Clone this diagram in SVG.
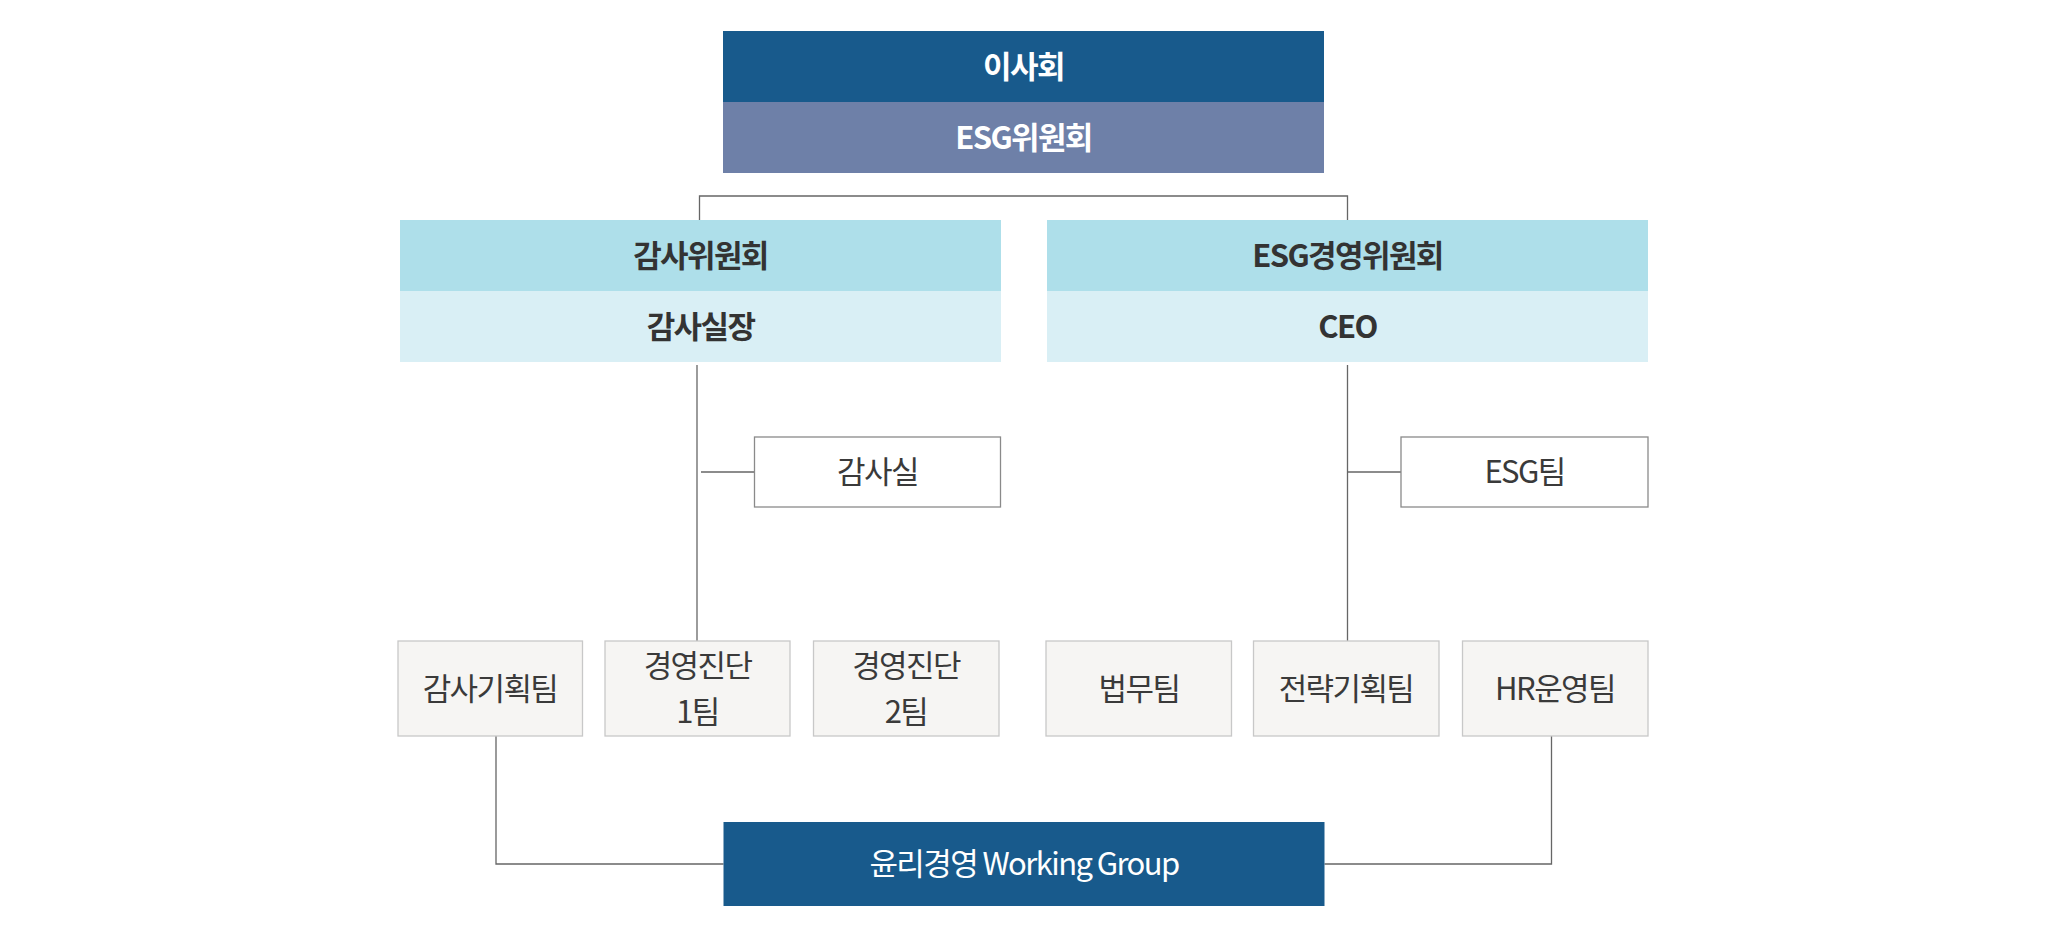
<svg xmlns="http://www.w3.org/2000/svg" width="2046" height="938" viewBox="0 0 2046 938">
<style>
.t{font-family:"Noto Sans CJK KR","Noto Sans",sans-serif;font-size:31px;text-anchor:middle;letter-spacing:-1.6px}
.b{font-weight:700}
.w{fill:#ffffff}
.d{fill:#333333}
.g{fill:#3a3a3a}
.team{fill:#f6f5f3;stroke:#c8c8c8;stroke-width:1.3}
.sub{fill:#ffffff;stroke:#8a8a8a;stroke-width:1.3}
.ln{fill:none;stroke:#666666;stroke-width:1.3}
</style>
<rect width="2046" height="938" fill="#ffffff"/>
<g id="connectors">
<polyline class="ln" points="699.5,220 699.5,196 1347.5,196 1347.5,220"/>
<line class="ln" x1="697" y1="365" x2="697" y2="641"/>
<line class="ln" x1="701" y1="472" x2="754.5" y2="472"/>
<line class="ln" x1="1347.5" y1="365" x2="1347.5" y2="641"/>
<line class="ln" x1="1347.5" y1="472" x2="1401" y2="472"/>
<polyline class="ln" points="496,736 496,864 723.5,864"/>
<polyline class="ln" points="1551.5,736 1551.5,864 1324.5,864"/>
</g>
<g id="board">
<rect x="723" y="31" width="601" height="71" fill="#185a8c"/>
<rect x="723" y="102" width="601" height="71" fill="#6e80a8"/>
<text class="t b w" x="1023.5" y="78">이사회</text>
<text class="t b w" x="1023.5" y="149">ESG위원회</text>
</g>
<g id="audit-committee">
<rect x="400" y="220" width="601" height="71" fill="#aedfea"/>
<rect x="400" y="291" width="601" height="71" fill="#d9eff5"/>
<text class="t b d" x="700.5" y="267">감사위원회</text>
<text class="t b d" x="700.5" y="338">감사실장</text>
</g>
<g id="esg-mgmt-committee">
<rect x="1047" y="220" width="601" height="71" fill="#aedfea"/>
<rect x="1047" y="291" width="601" height="71" fill="#d9eff5"/>
<text class="t b d" x="1347.5" y="267">ESG경영위원회</text>
<text class="t b d" x="1347.5" y="338">CEO</text>
</g>
<g id="audit-office">
<rect class="sub" x="754.5" y="437" width="246" height="70"/>
<text class="t g" x="877.5" y="483">감사실</text>
</g>
<g id="esg-team">
<rect class="sub" x="1401" y="437" width="247" height="70"/>
<text class="t g" x="1524.5" y="483">ESG팀</text>
</g>
<g id="audit-planning">
<rect class="team" x="398" y="641" width="184.5" height="95"/>
<text class="t g" x="490" y="700">감사기획팀</text>
</g>
<g id="diag1">
<rect class="team" x="605" y="641" width="185" height="95"/>
<text class="t g" x="697.5" y="677">경영진단</text>
<text class="t g" x="697.5" y="723">1팀</text>
</g>
<g id="diag2">
<rect class="team" x="813.5" y="641" width="185.5" height="95"/>
<text class="t g" x="906" y="677">경영진단</text>
<text class="t g" x="906" y="723">2팀</text>
</g>
<g id="legal">
<rect class="team" x="1046" y="641" width="185.5" height="95"/>
<text class="t g" x="1139" y="700">법무팀</text>
</g>
<g id="strategy">
<rect class="team" x="1253.5" y="641" width="185.5" height="95"/>
<text class="t g" x="1346" y="700">전략기획팀</text>
</g>
<g id="hr">
<rect class="team" x="1462.5" y="641" width="185.5" height="95"/>
<text class="t g" x="1555" y="700">HR운영팀</text>
</g>
<g id="ethics-wg">
<rect x="723.5" y="822" width="601" height="84" fill="#185a8c"/>
<text class="t w" x="1024" y="875">윤리경영 Working Group</text>
</g>
</svg>
